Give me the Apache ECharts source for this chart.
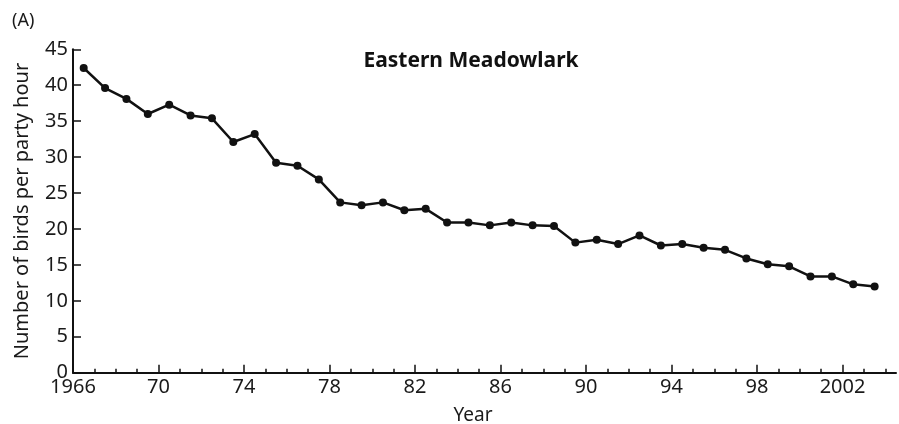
<!DOCTYPE html>
<html>
<head>
<meta charset="utf-8">
<script src="https://cdn.jsdelivr.net/npm/echarts@6/dist/echarts.min.js"></script>
<style>html,body{margin:0;padding:0;background:#fff}#c{width:899px;height:424px}</style>
</head>
<body>
<div id="c"></div>
<script>
// Data: Christmas Bird Count seasons (plotted at mid-season, year + 0.5)
var years = [1966.5,1967.5,1968.5,1969.5,1970.5,1971.5,1972.5,1973.5,1974.5,1975.5,
             1976.5,1977.5,1978.5,1979.5,1980.5,1981.5,1982.5,1983.5,1984.5,1985.5,
             1986.5,1987.5,1988.5,1989.5,1990.5,1991.5,1992.5,1993.5,1994.5,1995.5,
             1996.5,1997.5,1998.5,1999.5,2000.5,2001.5,2002.5,2003.5];
var birdsPerPartyHour = [42.4,39.6,38.1,36.0,37.3,35.8,35.4,32.1,33.2,29.2,
                         28.8,26.9,23.7,23.3,23.7,22.6,22.8,20.9,20.9,20.5,
                         20.9,20.5,20.4,18.1,18.5,17.9,19.1,17.7,17.9,17.4,
                         17.1,15.9,15.1,14.8,13.4,13.4,12.3,12.0];
var yTicks = [0,5,10,15,20,25,30,35,40,45];
var xTickLabels = {1966:'1966',1970:'70',1974:'74',1978:'78',1982:'82',1986:'86',1990:'90',1994:'94',1998:'98',2002:'2002'};

var FONT = 'Noto Sans';
var TXT = '#1a1a1a';
var chart = echarts.init(document.getElementById('c'));
var pts = years.map(function(y,i){return [y, birdsPerPartyHour[i]];});

chart.setOption({
  animation: false,
  backgroundColor: '#fff',
  title: [
    {text: 'Eastern Meadowlark', left: 466, top: 46, textAlign: 'center',
     textStyle: {fontFamily: FONT, fontWeight: 'bold', fontSize: 21, color: '#111'}},
    {text: 'Year', left: 468, top: 401, textAlign: 'center',
     textStyle: {fontFamily: FONT, fontWeight: 'normal', fontSize: 19, color: TXT}},
    {text: '(A)', left: 7, top: 7,
     textStyle: {fontFamily: FONT, fontWeight: 'normal', fontSize: 18, color: TXT}}
  ],
  grid: [
    {left: 73, right: 3, top: 49.3, bottom: 51.3, containLabel: false, outerBoundsMode: 'none'},
    {left: 73, width: 40 * (823 / 38.5), top: 49.3, bottom: 51.3, containLabel: false, outerBoundsMode: 'none'}
  ],
  xAxis: [
    {type: 'value', gridIndex: 0, min: 1966, max: 2004.5,
     axisLine: {show: true, lineStyle: {color: '#111', width: 2}},
     axisTick: {show: false}, axisLabel: {show: false}, splitLine: {show: false}},
    {type: 'value', gridIndex: 1, min: 1966, max: 2006, interval: 1,
     axisLine: {show: false},
     axisTick: {show: true, inside: true, length: 4, lineStyle: {color: '#111', width: 1.5}},
     axisLabel: {show: false}, splitLine: {show: false}},
    {type: 'value', gridIndex: 1, min: 1966, max: 2006, interval: 4, position: 'bottom',
     axisLine: {show: false},
     axisTick: {show: true, inside: true, length: 8, lineStyle: {color: '#111', width: 1.5}},
     axisLabel: {show: true, margin: 5, fontFamily: FONT, fontSize: 20, color: TXT,
       formatter: function(v){ return xTickLabels[v] || ''; }},
     splitLine: {show: false}}
  ],
  yAxis: [
    {type: 'value', gridIndex: 0, min: yTicks[0], max: yTicks[yTicks.length-1], interval: 5,
     name: 'Number of birds per party hour', nameLocation: 'middle', nameGap: 41,
     nameTextStyle: {fontFamily: FONT, fontSize: 20, color: TXT},
     axisLine: {show: true, lineStyle: {color: '#111', width: 2}},
     axisTick: {show: true, inside: true, length: 8, lineStyle: {color: '#111', width: 1.5}},
     axisLabel: {margin: 5, fontFamily: FONT, fontSize: 20, color: TXT},
     splitLine: {show: false}},
    {type: 'value', gridIndex: 1, min: 0, max: 45, show: false}
  ],
  series: [{
    type: 'line', xAxisIndex: 0, yAxisIndex: 0, data: pts,
    symbol: 'circle', symbolSize: 8, showSymbol: true,
    lineStyle: {color: '#111', width: 2.5},
    itemStyle: {color: '#111'}
  }]
});
</script>
</body>
</html>
